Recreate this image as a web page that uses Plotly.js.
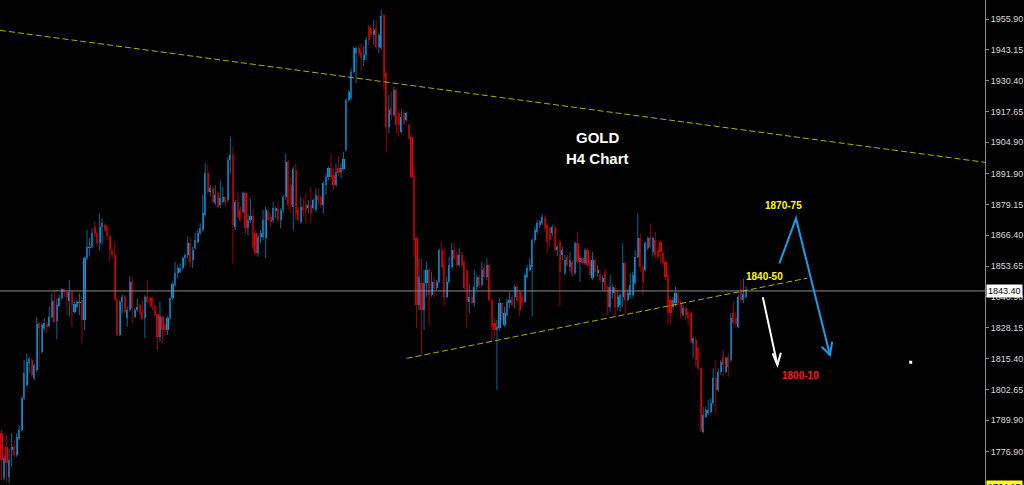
<!DOCTYPE html>
<html>
<head>
<meta charset="utf-8">
<script src="https://cdn.plot.ly/plotly-3.0.1.min.js"></script>
<style>
html,body{margin:0;padding:0;background:#000;}
#chart{width:1024px;height:485px;}
</style>
</head>
<body>
<div id="chart"></div>
<script>
// ---- Candle data (GOLD, H4), one entry per bar ----
const openP = [1784.5,1765.9,1779.0,1766.6,1777.6,1779.0,1775.5,1782.4,1785.9,1799.0,
1804.5,1813.4,1814.8,1807.2,1810.7,1830.0,1818.3,1827.9,1829.7,1828.9,
1832.5,1839.2,1831.1,1837.2,1840.6,1844.0,1843.1,1839.2,1843.1,1834.8,
1836.9,1838.3,1839.6,1831.4,1856.9,1861.0,1861.7,1870.0,1867.2,1863.1,
1870.0,1870.7,1870.0,1866.1,1860.3,1858.3,1839.6,1825.2,1839.0,1841.0,
1832.1,1835.5,1847.2,1832.8,1835.5,1837.6,1834.8,1832.1,1841.0,1840.3,
1840.6,1837.2,1833.7,1824.5,1832.8,1829.3,1827.2,1832.1,1840.3,1845.9,
1850.7,1851.4,1852.8,1856.9,1858.3,1863.1,1856.2,1861.0,1863.8,1867.2,
1868.6,1874.8,1892.0,1884.5,1885.9,1879.6,1883.8,1879.0,1880.3,1882.1,
1881.0,1897.6,1899.6,1870.0,1880.3,1876.9,1876.2,1883.8,1869.3,1872.8,
1874.4,1867.2,1859.0,1865.6,1865.9,1865.2,1876.2,1874.1,1872.8,1876.6,
1877.2,1872.8,1876.9,1882.4,1896.6,1887.2,1878.3,1893.4,1876.9,1872.1,
1878.3,1879.0,1877.6,1879.0,1877.6,1876.9,1882.7,1882.4,1879.0,1887.2,
1890.7,1894.1,1891.4,1887.2,1894.1,1892.7,1893.7,1901.7,1922.4,1923.1,
1934.1,1941.7,1944.0,1942.4,1938.9,1941.0,1952.7,1952.0,1949.3,1952.0,
1944.5,1943.8,1957.6,1933.4,1911.4,1918.9,1916.2,1926.5,1916.9,1909.3,
1916.9,1914.1,1912.0,1907.2,1891.4,1865.2,1837.6,1846.5,1835.5,1846.5,
1852.1,1841.7,1847.2,1844.5,1847.2,1860.3,1854.1,1841.0,1847.2,1853.4,
1860.3,1858.3,1854.1,1858.3,1855.5,1852.1,1838.9,1841.0,1838.3,1845.2,
1849.3,1845.9,1852.8,1849.3,1854.1,1839.6,1830.0,1827.2,1827.9,1838.3,
1829.3,1833.4,1838.3,1841.0,1841.0,1845.2,1843.1,1841.0,1838.9,1849.3,
1852.1,1853.4,1864.5,1867.9,1870.7,1871.4,1873.4,1870.7,1869.3,1867.2,
1870.0,1860.3,1863.8,1858.3,1850.7,1857.6,1853.4,1855.5,1850.7,1863.1,
1855.5,1856.9,1854.8,1860.3,1855.5,1848.6,1856.2,1850.7,1850.0,1847.2,
1851.4,1845.2,1836.9,1842.4,1844.5,1836.9,1837.6,1841.0,1854.8,1839.6,
1841.7,1841.7,1846.5,1857.6,1865.2,1853.4,1852.1,1861.0,1865.2,1859.6,
1864.5,1860.3,1863.8,1858.9,1855.5,1850.0,1839.6,1836.9,1838.3,1841.7,
1838.3,1833.4,1836.2,1834.8,1834.1,1821.7,1823.1,1819.7,1811.4,1785.2,
1791.4,1792.8,1793.5,1796.9,1807.2,1802.4,1810.0,1816.2,1810.0,1816.2,
1814.8,1834.1,1832.1,1828.6,1843.8,1839.6,1841.0];

const highP = [1785.9,1776.2,1783.8,1778.3,1784.5,1781.7,1784.5,1787.9,1799.6,1814.8,
1817.3,1816.2,1815.5,1813.4,1832.5,1830.3,1830.0,1832.1,1830.7,1836.9,
1842.4,1843.8,1840.3,1841.7,1844.5,1844.5,1843.8,1847.9,1843.5,1839.0,
1839.6,1842.4,1841.7,1857.6,1868.6,1865.2,1869.3,1872.1,1867.9,1875.5,
1873.4,1871.4,1870.7,1866.5,1861.0,1863.8,1840.3,1839.6,1842.0,1841.7,
1836.9,1849.5,1849.0,1836.2,1840.3,1838.3,1839.6,1841.7,1847.9,1841.0,
1841.0,1837.6,1834.1,1839.0,1833.4,1830.0,1832.8,1840.7,1847.2,1855.5,
1854.1,1854.8,1857.6,1859.0,1865.9,1865.6,1861.7,1867.2,1868.6,1871.4,
1883.1,1896.2,1895.5,1887.2,1886.5,1887.2,1884.5,1889.3,1886.5,1882.4,
1899.0,1907.2,1903.1,1881.0,1884.5,1878.3,1884.5,1884.5,1875.5,1881.7,
1877.6,1868.6,1867.2,1868.6,1876.9,1878.3,1877.6,1875.5,1880.3,1878.3,
1880.3,1877.6,1883.1,1900.3,1897.6,1890.7,1894.8,1896.2,1878.3,1882.4,
1881.7,1883.8,1881.0,1886.5,1881.7,1885.9,1885.9,1883.1,1888.6,1892.0,
1894.8,1900.3,1894.1,1896.2,1898.9,1896.2,1901.0,1923.1,1926.5,1935.5,
1944.5,1944.5,1945.1,1945.8,1944.5,1948.6,1953.4,1952.7,1955.5,1955.5,
1950.0,1959.6,1958.2,1934.1,1924.5,1925.8,1927.9,1927.2,1918.3,1918.3,
1918.3,1917.6,1912.7,1907.9,1894.8,1865.9,1856.9,1856.9,1852.1,1855.5,
1852.8,1851.4,1849.3,1847.9,1861.0,1863.8,1861.0,1849.3,1857.6,1863.1,
1863.1,1859.6,1861.0,1859.6,1856.2,1852.1,1846.5,1842.4,1852.1,1850.0,
1850.0,1855.5,1854.8,1856.9,1854.8,1840.3,1832.1,1831.4,1840.3,1839.0,
1836.9,1840.3,1843.1,1841.7,1845.9,1845.9,1843.8,1842.4,1850.7,1854.1,
1856.9,1865.2,1870.0,1872.8,1872.8,1875.2,1874.8,1871.4,1870.0,1870.7,
1870.7,1862.4,1864.5,1861.7,1858.3,1858.3,1859.6,1856.2,1863.8,1867.9,
1858.3,1857.6,1861.0,1861.0,1856.9,1859.6,1856.9,1854.1,1852.1,1850.0,
1852.8,1845.9,1850.0,1846.5,1845.9,1843.8,1842.4,1863.1,1855.5,1843.8,
1850.7,1851.4,1860.3,1875.5,1867.2,1854.1,1863.8,1865.9,1871.4,1865.9,
1867.9,1861.7,1864.5,1859.6,1856.2,1850.7,1840.3,1841.0,1845.2,1843.1,
1839.6,1837.6,1836.9,1835.5,1834.8,1824.5,1824.5,1820.3,1812.1,1795.5,
1795.5,1798.3,1799.0,1811.4,1814.8,1811.4,1814.8,1819.0,1816.2,1817.6,
1834.1,1839.0,1834.8,1841.7,1847.9,1848.6,1845.2];

const lowP = [1765.2,1765.2,1764.5,1763.8,1770.7,1774.8,1774.8,1781.7,1785.2,1798.3,
1803.8,1809.3,1807.9,1806.5,1810.0,1812.1,1817.6,1827.2,1825.9,1828.3,
1832.1,1830.0,1823.4,1836.9,1839.6,1841.0,1833.4,1832.8,1828.6,1834.1,
1836.2,1833.4,1821.7,1827.2,1856.2,1857.6,1861.0,1865.9,1861.7,1860.3,
1862.4,1867.9,1864.5,1855.5,1856.9,1839.3,1824.9,1824.9,1834.1,1834.1,
1828.6,1834.8,1830.0,1832.1,1834.8,1833.4,1831.4,1823.8,1838.3,1836.9,
1835.5,1832.8,1819.0,1822.4,1821.7,1825.2,1825.2,1831.4,1839.6,1845.2,
1848.6,1850.7,1852.1,1854.1,1856.9,1853.4,1852.8,1860.3,1863.1,1866.5,
1867.9,1874.1,1883.8,1882.4,1879.6,1878.9,1877.6,1877.6,1879.6,1878.3,
1880.3,1892.0,1854.8,1868.6,1873.4,1872.1,1875.5,1867.2,1866.5,1871.4,
1860.3,1858.3,1857.6,1863.1,1864.5,1856.9,1872.1,1870.0,1871.4,1873.4,
1871.4,1869.3,1875.5,1881.0,1876.9,1875.5,1868.6,1872.8,1872.1,1871.4,
1874.1,1871.4,1875.5,1871.4,1876.9,1876.2,1879.0,1877.6,1875.5,1883.1,
1889.3,1889.3,1885.2,1886.5,1890.7,1890.0,1893.2,1901.0,1921.7,1922.4,
1933.4,1929.3,1940.3,1934.1,1936.2,1938.9,1945.1,1948.6,1945.1,1943.1,
1941.7,1943.1,1926.5,1901.0,1908.6,1914.1,1915.5,1908.6,1907.2,1908.6,
1912.0,1913.4,1905.8,1890.0,1857.6,1827.9,1835.5,1816.9,1827.2,1841.0,
1829.3,1841.0,1840.3,1843.8,1846.5,1852.8,1836.9,1840.3,1846.5,1852.8,
1856.2,1853.4,1853.4,1853.4,1843.8,1827.9,1834.1,1837.6,1836.9,1843.8,
1844.5,1845.2,1848.6,1847.9,1839.0,1823.1,1824.5,1802.4,1827.2,1830.7,
1828.6,1832.8,1836.2,1836.9,1836.2,1838.3,1832.8,1836.9,1838.3,1848.6,
1851.4,1832.8,1863.1,1867.2,1869.3,1870.7,1867.9,1858.9,1861.7,1865.9,
1859.6,1857.6,1836.9,1856.2,1850.0,1853.4,1851.4,1849.3,1850.0,1854.8,
1847.2,1854.1,1854.1,1853.4,1849.3,1847.9,1849.3,1849.3,1846.5,1843.8,
1843.1,1833.4,1834.8,1840.3,1833.4,1835.5,1834.8,1836.9,1834.1,1839.0,
1840.3,1841.0,1845.9,1856.9,1851.4,1841.7,1851.4,1860.3,1861.0,1857.6,
1856.9,1856.2,1854.8,1854.1,1847.9,1829.3,1830.0,1835.5,1836.9,1836.9,
1832.1,1832.8,1831.4,1829.3,1821.7,1815.5,1812.1,1810.7,1785.2,1784.5,
1790.7,1792.1,1792.8,1796.2,1792.8,1801.7,1808.6,1807.9,1809.3,1807.9,
1814.1,1829.3,1828.6,1827.9,1838.3,1838.3,1840.3];

const closeP = [1773.5,1774.1,1772.1,1773.5,1779.0,1775.5,1782.8,1785.9,1799.0,1809.3,
1814.1,1815.1,1808.6,1812.8,1829.7,1827.9,1829.3,1830.0,1828.6,1832.8,
1839.2,1830.7,1837.6,1840.3,1844.0,1843.1,1841.0,1843.1,1837.6,1838.0,
1839.0,1839.0,1831.4,1856.9,1861.7,1861.7,1867.2,1867.2,1863.1,1870.0,
1871.4,1868.6,1866.1,1860.3,1858.3,1839.6,1825.2,1839.0,1841.0,1834.8,
1835.5,1847.2,1836.2,1835.5,1836.9,1834.1,1831.6,1841.0,1839.0,1839.0,
1836.9,1833.4,1824.5,1833.0,1827.2,1827.2,1832.1,1840.3,1846.3,1850.7,
1852.8,1852.8,1856.9,1858.3,1863.1,1855.5,1860.3,1864.5,1867.2,1869.3,
1875.5,1892.0,1884.5,1885.9,1880.3,1883.1,1878.3,1881.7,1882.4,1880.3,
1897.6,1899.6,1870.7,1880.3,1874.1,1872.8,1883.8,1869.3,1872.8,1874.4,
1861.7,1859.0,1865.9,1867.2,1872.8,1876.9,1872.8,1872.1,1877.6,1877.6,
1872.8,1876.9,1882.4,1896.9,1879.0,1879.0,1893.7,1875.5,1872.8,1878.3,
1876.9,1876.9,1879.0,1875.5,1881.0,1883.1,1881.0,1879.0,1887.9,1890.7,
1894.1,1890.7,1887.2,1892.7,1892.0,1894.1,1897.8,1922.4,1925.8,1934.1,
1943.8,1943.8,1941.7,1939.6,1941.0,1947.2,1947.2,1949.3,1951.4,1944.5,
1949.3,1957.1,1932.0,1911.4,1918.3,1916.2,1926.5,1912.0,1912.0,1915.5,
1912.7,1916.9,1906.5,1890.7,1864.5,1837.6,1849.3,1835.5,1846.5,1852.1,
1841.7,1847.2,1844.5,1847.2,1860.3,1853.4,1841.0,1847.2,1854.1,1860.3,
1856.9,1854.1,1858.3,1854.1,1844.5,1839.6,1841.0,1838.3,1845.2,1849.3,
1845.9,1852.1,1849.3,1854.1,1839.6,1828.6,1827.2,1828.6,1838.3,1831.4,
1834.1,1838.9,1839.6,1837.6,1845.2,1839.6,1835.5,1838.3,1850.0,1852.8,
1854.1,1864.5,1868.6,1871.4,1872.1,1874.1,1869.3,1863.8,1864.5,1870.0,
1860.3,1861.7,1851.4,1860.3,1856.2,1854.1,1856.2,1850.7,1863.1,1855.5,
1856.9,1854.8,1860.3,1854.1,1850.0,1856.2,1851.4,1852.1,1847.9,1848.6,
1843.8,1836.9,1845.2,1845.2,1836.9,1841.0,1841.7,1854.8,1839.6,1842.4,
1845.9,1850.0,1857.6,1865.2,1853.4,1847.2,1863.1,1865.2,1861.7,1865.2,
1858.3,1857.6,1859.6,1854.8,1849.3,1834.1,1834.1,1839.6,1842.4,1838.3,
1834.1,1836.2,1833.4,1832.1,1822.4,1823.8,1814.8,1811.4,1785.9,1792.1,
1794.1,1794.1,1796.9,1807.2,1802.4,1810.0,1814.1,1812.8,1815.5,1812.1,
1832.1,1830.0,1829.7,1841.0,1839.6,1842.1,1843.4];

// ---- Price axis labels ----
const tickValues = [1955.90,1943.15,1930.40,1917.65,1904.90,1891.90,1879.15,1866.40,1853.65,1840.90,1828.15,1815.40,1802.65,1789.90,1776.90,1764.15];
const tickLabels = ["1955.90","1943.15","1930.40","1917.65","1904.90","1891.90","1879.15","1866.40","1853.65","1840.90","1828.15","1815.40","1802.65","1789.90","1776.90",""];
const currentPrice = 1843.40;
const bottomPrice = 1764.15;

// ---- Drawn analysis (bar index, price) ----
const upperTrendX = [-0.6, 391.05], upperTrendY = [1951.2, 1896.6];
const lowerTrendX = [161.1, 320.4], lowerTrendY = [1815.5, 1848.7];
const blueArrowX = [309.3, 315.9, 329.4], blueArrowY = [1854.8, 1873.4, 1816.9];
const blueHeadX = [326.1, 329.4, 330.3], blueHeadY = [1820.3, 1816.9, 1822.4];
const whiteArrowX = [302.7, 308.5], whiteArrowY = [1840.8, 1812.8];
const whiteHeadX = [306.6, 308.5, 309.9], whiteHeadY = [1817.6, 1812.8, 1817.8];
const dotX = [361.5], dotY = [1813.9];
const labels = [
  {text:"GOLD", x:236.8, y:1906.9, color:"#ffffff", size:15},
  {text:"H4 Chart", x:236.8, y:1898.0, color:"#ffffff", size:15},
  {text:"1870-75", x:311.0, y:1878.9, color:"#ffff00", size:10},
  {text:"1840-50", x:303.2, y:1849.4, color:"#ffff00", size:10},
  {text:"1800-10", x:317.7, y:1808.4, color:"#ff1a1a", size:10}
];

const idx = openP.map((_, i) => i);
const isUp = openP.map((o, i) => closeP[i] >= o);
const bodyBase = openP.map((o, i) => Math.min(o, closeP[i]));
const bodyLen = openP.map((o, i) => Math.max(Math.abs(closeP[i] - o), 0.35));
const bodyColor = isUp.map(u => u ? "#16aaf4" : "#ff0000");

const wicks = {
  type: "candlestick", x: idx, open: openP, high: highP, low: lowP, close: closeP,
  increasing: {line: {color: "#0d6594", width: 1}, fillcolor: "#0d6594"},
  decreasing: {line: {color: "#950000", width: 1}, fillcolor: "#950000"},
  whiskerwidth: 0, hoverinfo: "skip"
};
const bodies = {
  type: "bar", x: idx, y: bodyLen, base: bodyBase, width: 0.84,
  marker: {color: bodyColor, line: {width: 0}}, hoverinfo: "skip"
};
const dot = {
  type: "scatter", mode: "markers", x: dotX, y: dotY,
  marker: {symbol: "square", size: 3, color: "#ffffff"}, hoverinfo: "skip"
};

function path(xs, ys) {
  return xs.map((x, i) => (i ? "L" : "M") + x + "," + ys[i]).join(" ");
}

const shapes = [
  {type:"line", xref:"paper", x0:0, x1:1, yref:"y", y0:currentPrice, y1:currentPrice,
   line:{color:"#8c8c8c", width:1}},
  {type:"line", xref:"x", yref:"y", x0:upperTrendX[0], x1:upperTrendX[1], y0:upperTrendY[0], y1:upperTrendY[1],
   line:{color:"#b0b000", width:1, dash:"6px,3px"}},
  {type:"line", xref:"x", yref:"y", x0:lowerTrendX[0], x1:lowerTrendX[1], y0:lowerTrendY[0], y1:lowerTrendY[1],
   line:{color:"#b0b000", width:1, dash:"6px,3px"}},
  {type:"path", xref:"x", yref:"y", path: path(blueArrowX, blueArrowY), line:{color:"#1a9de6", width:2}},
  {type:"path", xref:"x", yref:"y", path: path(blueHeadX, blueHeadY), line:{color:"#1a9de6", width:2}},
  {type:"path", xref:"x", yref:"y", path: path(whiteArrowX, whiteArrowY), line:{color:"#ffffff", width:2}},
  {type:"path", xref:"x", yref:"y", path: path(whiteHeadX, whiteHeadY), line:{color:"#ffffff", width:2}}
];

const annotations = labels.map(l => ({
  text: "<b>" + l.text + "</b>", x: l.x, y: l.y, xref: "x", yref: "y", showarrow: false,
  font: {family: "Liberation Sans, Arial, sans-serif", size: l.size, color: l.color}
}));
annotations.push({
  text: currentPrice.toFixed(2), xref: "paper", x: 1, xanchor: "left", xshift: 1,
  yref: "y", y: currentPrice, yanchor: "middle", showarrow: false,
  bgcolor: "#ffffff", borderpad: 1,
  font: {family: "Liberation Sans, Arial, sans-serif", size: 9, color: "#000000"}
});
annotations.push({
  text: bottomPrice.toFixed(2), xref: "paper", x: 1, xanchor: "left", xshift: 1,
  yref: "y", y: bottomPrice, yanchor: "middle", yshift: -4, showarrow: false,
  bgcolor: "#ffff00", borderpad: 1,
  font: {family: "Liberation Sans, Arial, sans-serif", size: 9, color: "#000000"}
});

const layout = {
  width: 1024, height: 485,
  paper_bgcolor: "#000000", plot_bgcolor: "#000000",
  margin: {l: 0, r: 39, t: 0, b: 0},
  showlegend: false, boxgap: 0.7, bargap: 0,
  xaxis: {range: [-0.6, 391.05], visible: false, showgrid: false, zeroline: false,
          rangeslider: {visible: false}, fixedrange: true},
  yaxis: {side: "right", range: [1763.12, 1963.76], tickvals: tickValues, ticktext: tickLabels,
          showgrid: false, zeroline: false, showline: true, linecolor: "#8a8a8a", linewidth: 1,
          ticks: "outside", ticklen: 3, tickcolor: "#8a8a8a",
          tickfont: {family: "Liberation Sans, Arial, sans-serif", size: 9, color: "#dcdcdc"},
          fixedrange: true},
  shapes: shapes,
  annotations: annotations
};

Plotly.newPlot("chart", [wicks, bodies, dot], layout, {staticPlot: true, displayModeBar: false});
</script>
</body>
</html>
